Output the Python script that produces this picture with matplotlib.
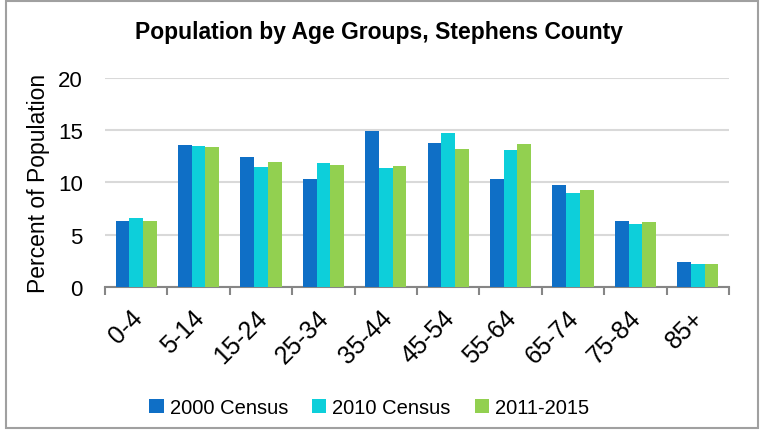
import numpy as np
import matplotlib.pyplot as plt
from matplotlib.patches import Rectangle

plt.rcParams['font.family'] = ['Liberation Sans', 'DejaVu Sans']

# Datos
grupos = ['0-4', '5-14', '15-24', '25-34', '35-44', '45-54', '55-64', '65-74', '75-84', '85+']
censo_2000 = [6.3, 13.6, 12.4, 10.3, 14.9, 13.8, 10.3, 9.8, 6.3, 2.4]
censo_2010 = [6.6, 13.5, 11.5, 11.9, 11.4, 14.7, 13.1, 9.0, 6.0, 2.2]
acs_2011_2015 = [6.3, 13.4, 12.0, 11.7, 11.6, 13.2, 13.7, 9.3, 6.2, 2.2]

series = [('2000 Census', censo_2000, '#0F6FC6'),
          ('2010 Census', censo_2010, '#0DCFDA'),
          ('2011-2015', acs_2011_2015, '#92D050')]

fig = plt.figure(figsize=(7.63, 4.31), dpi=100)
ax = fig.add_axes([0.1376, 0.3318, 0.8178, 0.4849])

x = np.arange(len(grupos))
ancho = 0.22
for i, (nombre, valores, color) in enumerate(series):
    ax.bar(x + (i - 1) * ancho, valores, ancho, color=color, label=nombre, zorder=3)

ax.set_xlim(-0.5, len(grupos) - 0.5)
ax.set_ylim(0, 20)
ax.set_yticks([0, 5, 10, 15, 20])
ax.yaxis.grid(True, color='#D9D9D9', linewidth=1.5, zorder=0)
ax.set_axisbelow(True)

for lado in ['top', 'right', 'left']:
    ax.spines[lado].set_visible(False)
ax.spines['bottom'].set_color('#868686')
ax.spines['bottom'].set_linewidth(1.5)

ax.set_xticks(x - 0.1)
ax.set_xticklabels(grupos, rotation=45, ha='right', rotation_mode='anchor', fontsize=18)
ax.tick_params(axis='x', length=0, pad=13)
ax.set_xticks(np.arange(-0.5, len(grupos)), minor=True)
ax.tick_params(axis='x', which='minor', length=6, width=1.5, color='#868686')
ax.tick_params(axis='y', length=0, labelsize=16, pad=16)

ax.set_ylabel('Percent of Population', fontsize=16.5, labelpad=6)

fig.text(0.497, 0.925, 'Population by Age Groups, Stephens County',
         ha='center', va='center', fontsize=16.5, fontweight='bold')

ax.legend(loc='center', bbox_to_anchor=(0.484, 0.053), bbox_transform=fig.transFigure,
          ncol=3, frameon=False, fontsize=14.5, handlelength=0.7, handleheight=0.7,
          handletextpad=0.3, columnspacing=1.2)

fig.patches.append(Rectangle((0.0079, 0.0046), 0.9855, 0.9908, transform=fig.transFigure,
                             fill=False, edgecolor='#A0A0A0', linewidth=1.5))

fig.savefig('out.png', dpi=100)
